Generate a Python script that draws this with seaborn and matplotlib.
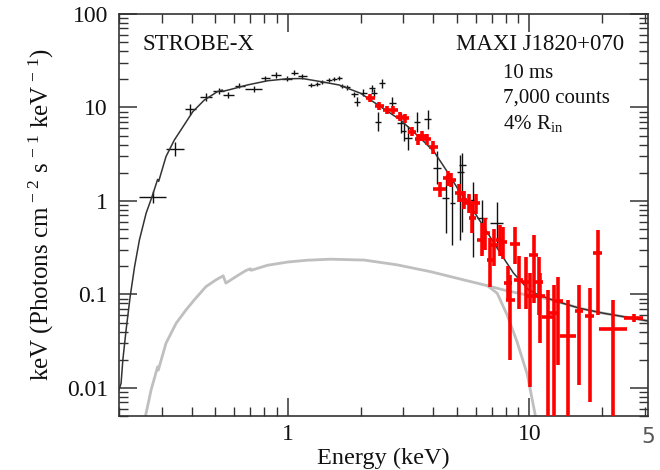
import numpy as np
import pandas as pd
import matplotlib
matplotlib.use("Agg")
import matplotlib.pyplot as plt
import matplotlib.ticker as mticker
import seaborn as sns

# ---------------- data ----------------
# black instrument points (energy keV, bin edges, flux, flux error bounds)
blk_E   = [0.276, 0.342, 0.395, 0.458, 0.517, 0.567, 0.629, 0.721, 0.803, 0.892,
           0.991, 1.062, 1.150, 1.253, 1.327, 1.391, 1.481, 1.553, 1.629, 1.683,
           1.753, 1.879, 1.928, 2.055, 2.239, 2.273, 2.446, 2.361, 2.708, 2.931,
           3.142, 3.436, 3.800, 3.016, 4.156, 4.497, 4.806, 5.186, 5.286, 5.871,
           6.376, 7.355]
blk_Elo = [0.243, 0.313, 0.375, 0.434, 0.490, 0.539, 0.604, 0.664, 0.773, 0.851,
           0.944, 1.029, 1.100, 1.209, 1.293, 1.362, 1.436, 1.527, 1.594, 1.650,
           1.720, 1.830, 1.880, 1.990, 2.161, 2.200, 2.380, 2.290, 2.620, 2.821,
           3.016, 3.330, 3.680, 2.930, 4.000, 4.360, 4.690, 5.025, 5.103, 5.700,
           6.100, 6.900]
blk_Ehi = [0.313, 0.373, 0.417, 0.484, 0.544, 0.598, 0.664, 0.781, 0.843, 0.936,
           1.039, 1.100, 1.198, 1.293, 1.362, 1.429, 1.527, 1.594, 1.672, 1.720,
           1.804, 1.946, 1.984, 2.121, 2.300, 2.332, 2.520, 2.430, 2.800, 3.016,
           3.276, 3.540, 3.920, 3.100, 4.310, 4.640, 4.930, 5.352, 5.471, 6.040,
           6.650, 7.790]
blk_F   = [1.11, 3.60, 9.57, 12.9, 15.0, 13.6, 17.1, 15.7, 20.5, 22.3,
           20.2, 23.6, 21.7, 17.4, 17.8, 18.6, 19.7, 20.0, 20.5, 17.0,
           16.4, 13.8, 11.5, 14.4, 16.0, 14.2, 18.2, 7.05, 11.1, 6.78,
           4.69, 7.05, 7.48, 5.60, 2.25, 1.08, 0.95, 2.04, 2.43, 1.02,
           0.658, 0.582]
blk_Flo = [0.95, 3.03, 8.31, 11.7, 13.9, 12.6, 16.0, 14.5, 19.2, 20.9,
           19.0, 22.3, 20.4, 16.6, 17.0, 17.8, 18.8, 19.0, 19.5, 16.0,
           15.4, 12.8, 10.3, 13.2, 14.6, 12.9, 16.3, 5.6, 9.4, 5.3,
           3.5, 5.5, 5.9, 4.4, 1.5, 0.45, 0.34, 0.383, 0.466, 0.252,
           0.278, 0.322]
blk_Fhi = [1.28, 4.28, 10.9, 14.3, 16.2, 14.6, 18.3, 17.0, 21.7, 23.7,
           21.5, 25.2, 22.8, 18.3, 18.6, 19.5, 20.6, 21.0, 21.5, 18.0,
           17.4, 14.8, 12.8, 15.6, 17.5, 15.6, 20.3, 8.9, 13.0, 8.7,
           6.3, 9.0, 9.5, 7.1, 3.4, 1.9, 1.68, 3.10, 3.26, 1.60,
           1.02, 0.975]

# red instrument points
red_E   = [2.19, 2.38, 2.57, 2.73, 2.91, 3.07, 3.28, 3.46, 3.60, 3.78,
           4.00, 4.26, 4.61, 4.76, 5.10, 5.35, 5.61, 5.80, 6.04, 6.38,
           6.58, 6.90, 7.12, 7.54, 7.79, 8.17, 8.35, 8.75, 9.03, 9.72,
           10.03, 10.42, 10.93, 11.10, 12.0, 12.6, 13.2, 14.4, 16.1, 17.75,
           19.2, 22.2, 27.0]
red_Elo = [2.10, 2.29, 2.47, 2.64, 2.80, 2.96, 3.16, 3.35, 3.48, 3.64,
           3.86, 4.00, 4.40, 4.58, 4.90, 5.13, 5.39, 5.60, 5.80, 6.10,
           6.35, 6.65, 6.85, 7.26, 7.50, 7.82, 8.00, 8.35, 8.65, 9.30,
           9.60, 10.0, 10.45, 10.6, 11.3, 12.0, 12.7, 13.4, 15.5, 17.0,
           18.4, 19.5, 24.7]
red_Ehi = [2.29, 2.49, 2.66, 2.85, 3.04, 3.19, 3.41, 3.58, 3.75, 3.93,
           4.17, 4.50, 4.80, 4.95, 5.30, 5.54, 5.82, 6.00, 6.27, 6.64,
           6.85, 7.17, 7.39, 7.82, 8.10, 8.51, 8.70, 9.18, 9.40, 10.2,
           10.5, 10.9, 11.4, 11.6, 12.7, 13.2, 13.8, 15.6, 16.7, 18.5,
           20.0, 25.3, 29.6]
red_F   = [12.7, 10.4, 9.4, 9.4, 7.97, 7.66, 5.5, 4.57, 4.96, 4.57,
           3.75, 1.33, 1.75, 1.68, 1.21, 1.02, 0.945, 0.653, 0.945, 0.383,
           0.452, 0.234, 0.338, 0.383, 0.367, 0.132, 0.087, 0.347, 0.143, 0.137,
           0.095, 0.264, 0.137, 0.095, 0.058, 0.063, 0.085, 0.036, 0.067, 0.059,
           0.276, 0.043, 0.056]
red_Flo = [11.5, 9.4, 8.5, 8.5, 7.1, 6.8, 4.9, 4.0, 4.4, 4.0,
           3.2, 1.1, 1.45, 1.4, 0.98, 0.82, 0.75, 0.45, 0.72, 0.26,
           0.30, 0.12, 0.20, 0.26, 0.24, 0.085, 0.020, 0.21, 0.07, 0.07,
           0.0103, 0.081, 0.06, 0.03, 0.001, 0.001, 0.0177, 0.001, 0.0108, 0.0071,
           0.06, 0.001, 0.051]
red_Fhi = [14.1, 11.5, 10.4, 10.4, 8.9, 8.6, 6.2, 5.2, 5.6, 5.2,
           4.4, 1.6, 2.1, 2.0, 1.5, 1.27, 1.2, 0.92, 1.2, 0.58,
           0.65, 0.40, 0.50, 0.55, 0.53, 0.20, 0.162, 0.53, 0.26, 0.25,
           0.17, 0.43, 0.25, 0.17, 0.112, 0.127, 0.155, 0.087, 0.127, 0.117,
           0.49, 0.087, 0.062]

# total model curve
mod_E = [0.200, 0.204, 0.2075, 0.214, 0.2225, 0.232, 0.243, 0.259, 0.274, 0.289,
         0.292, 0.313, 0.339, 0.361, 0.404, 0.451, 0.512, 0.535, 0.540, 0.580,
         0.680, 0.824, 1.00, 1.15, 1.37, 1.63, 2.00, 2.42, 2.93, 3.54,
         4.03, 4.57, 5.19, 5.53, 6.47, 7.59, 8.60, 9.93, 10.8, 13.0,
         16.2, 20.2, 25.3, 31.0]
mod_F = [0.0095, 0.0112, 0.020, 0.0417, 0.095, 0.198, 0.383, 0.739, 1.11, 1.70,
         1.62, 2.98, 4.49, 5.75, 9.0, 12.0, 14.8, 15.4, 14.9, 15.6,
         17.4, 19.3, 20.3, 20.4, 18.9, 17.4, 14.2, 10.2, 7.35, 4.69,
         3.37, 2.06, 1.21, 1.00, 0.53, 0.276, 0.169, 0.112, 0.100, 0.084,
         0.071, 0.063, 0.057, 0.052]

# broad model component (continuing under the total at high energy)
cmp_E = [0.2575, 0.2716, 0.2867, 0.289, 0.291, 0.313, 0.345, 0.379, 0.410, 0.458,
         0.504, 0.540, 0.554, 0.610, 0.670, 0.700, 0.705, 0.824, 1.00, 1.20,
         1.50, 2.07, 2.84, 3.90, 5.35, 6.70, 8.00, 9.50, 11.0, 13.0,
         16.2, 20.2, 25.3, 31.0]
cmp_F = [0.005, 0.0095, 0.0156, 0.0168, 0.0155, 0.030, 0.0492, 0.0683, 0.0874, 0.121,
         0.143, 0.158, 0.132, 0.155, 0.180, 0.188, 0.181, 0.205, 0.222, 0.232,
         0.238, 0.233, 0.207, 0.175, 0.143, 0.124, 0.110, 0.100, 0.094, 0.084,
         0.071, 0.063, 0.057, 0.052]

# cut-off branch of the component
cut_E = [6.70, 7.36, 8.10, 8.90, 9.80, 10.6, 10.9]
cut_F = [0.124, 0.103, 0.060, 0.031, 0.014, 0.005, 0.004]

xticks_major = [1, 10]
yticks_major = [0.01, 0.1, 1, 10, 100]

# ---------------- styling ----------------
sns.set_theme(style="ticks")
plt.rcParams["font.family"] = ["Liberation Serif", "DejaVu Serif"]
plt.rcParams["mathtext.fontset"] = "custom"
plt.rcParams["mathtext.rm"] = "Liberation Serif"
plt.rcParams["mathtext.it"] = "Liberation Serif:italic"
plt.rcParams["mathtext.default"] = "rm"

fig = plt.figure(figsize=(6.6, 4.7), dpi=100)
ax = fig.add_axes([119 / 660, 1 - 416 / 470, (648 - 119) / 660, (416 - 14) / 470])

df_cmp = pd.DataFrame({"E": cmp_E, "F": cmp_F})
df_cut = pd.DataFrame({"E": cut_E, "F": cut_F})
df_mod = pd.DataFrame({"E": mod_E, "F": mod_F})

sns.lineplot(data=df_cmp, x="E", y="F", ax=ax, sort=False, estimator=None,
             color="#bfbfbf", lw=2.0, zorder=1)
sns.lineplot(data=df_cut, x="E", y="F", ax=ax, sort=False, estimator=None,
             color="#bfbfbf", lw=2.0, zorder=1)

bE = np.array(blk_E); bF = np.array(blk_F)
ax.errorbar(bE, bF,
            xerr=[bE - np.array(blk_Elo), np.array(blk_Ehi) - bE],
            yerr=[bF - np.array(blk_Flo), np.array(blk_Fhi) - bF],
            fmt="none", ecolor="#111111", elinewidth=1.0, capsize=0, zorder=2)

sns.lineplot(data=df_mod, x="E", y="F", ax=ax, sort=False, estimator=None,
             color="#333333", lw=1.1, zorder=3)

rE = np.array(red_E); rF = np.array(red_F)
ax.errorbar(rE, rF,
            xerr=[rE - np.array(red_Elo), np.array(red_Ehi) - rE],
            yerr=[rF - np.array(red_Flo), np.array(red_Fhi) - rF],
            fmt="none", ecolor="#ff0000", elinewidth=2.6, capsize=0, zorder=4)

ax.set_xscale("log")
ax.set_yscale("log")
ax.set_xlim(0.2, 31)
ax.set_ylim(0.005, 100)

fmt = mticker.FuncFormatter(lambda v, p: f"{v:g}")
ax.xaxis.set_major_locator(mticker.FixedLocator(xticks_major))
ax.yaxis.set_major_locator(mticker.FixedLocator(yticks_major))
ax.xaxis.set_major_formatter(fmt)
ax.yaxis.set_major_formatter(fmt)
ax.xaxis.set_minor_locator(mticker.LogLocator(base=10, subs=np.arange(2, 10), numticks=20))
ax.yaxis.set_minor_locator(mticker.LogLocator(base=10, subs=np.arange(2, 10), numticks=20))
ax.xaxis.set_minor_formatter(mticker.NullFormatter())
ax.yaxis.set_minor_formatter(mticker.NullFormatter())

ax.tick_params(which="both", direction="in", top=True, right=True, color="#333333")
ax.tick_params(which="major", length=13, width=1.1, labelsize=17, labelcolor="#111111")
ax.tick_params(which="minor", length=6.5, width=1.0)
ax.tick_params(axis="x", which="major", pad=6)
ax.tick_params(axis="y", which="major", pad=8)
for s in ax.spines.values():
    s.set_color("#333333")
    s.set_linewidth(1.2)
    s.set_visible(True)

ax.set_xlabel("Energy (keV)", fontsize=17.5, color="#111111", labelpad=2)
ax.set_ylabel(r"keV (Photons cm$^{\,-\,2}$ s$^{\,-\,1}$ keV$^{\,-\,1}$)", fontsize=18,
              color="#111111", labelpad=8)

ax.text(0.045, 0.925, "STROBE-X", transform=ax.transAxes, fontsize=16.5,
        ha="left", va="center", color="#111111")
ax.text(0.955, 0.925, "MAXI J1820+070", transform=ax.transAxes, fontsize=16.5,
        ha="right", va="center", color="#111111")
ax.text(0.725, 0.852, "10 ms", transform=ax.transAxes, fontsize=15,
        ha="left", va="center", color="#111111")
ax.text(0.725, 0.79, "7,000 counts", transform=ax.transAxes, fontsize=15,
        ha="left", va="center", color="#111111")
ax.text(0.725, 0.727, r"4% R$_{\rm in}$", transform=ax.transAxes, fontsize=15,
        ha="left", va="center", color="#111111")

fig.text(641 / 660, 1 - 437 / 470, "5", fontsize=15.5, color="#555555",
         family="DejaVu Sans", ha="left", va="center")

fig.savefig("out.png", dpi=100)
